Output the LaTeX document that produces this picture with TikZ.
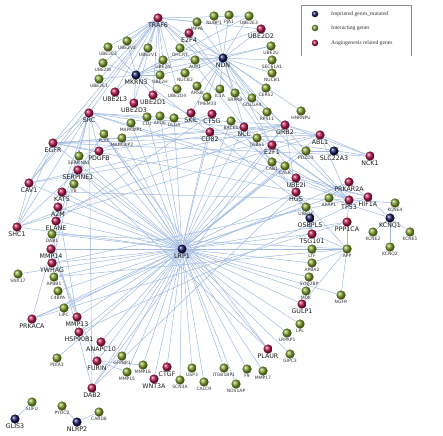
\documentclass[tikz,border=0pt]{standalone}
\usepackage{fontspec}
\setsansfont{DejaVu Sans}
\newfontfamily\legendfont{Liberation Serif}
\usetikzlibrary{backgrounds}
\definecolor{genenavy}{HTML}{15175C}
\definecolor{genegreen}{HTML}{7C9C2A}
\definecolor{genered}{HTML}{B2164A}
\definecolor{edgeblue}{HTML}{9FB9E2}

\begin{document}
\begin{tikzpicture}[x=1pt,y=-1pt,
  gene/.style={circle,inner sep=0pt,minimum size=9.2pt},
  biglab/.style={font=\sffamily\fontsize{6.3}{6.3}\selectfont,text=black!90,inner sep=0.3pt},
  smalllab/.style={font=\sffamily\fontsize{4.5}{4.5}\selectfont,text=black!80,inner sep=0.3pt},
  imp/.style={gene,ball color=genenavy,label={[biglab]below:#1}},
  ang/.style={gene,ball color=genered,label={[biglab]below:#1}},
  itr/.style={gene,ball color=genegreen,label={[smalllab]below:#1}},
  conn/.style={draw=edgeblue,line width=0.5pt}]

  \useasboundingbox (0,0) rectangle (443,435);

  % imprinted genes (mutated)
  \node[imp=NDN] (NDN) at (223,58) {};
  \node[imp=MKRN3] (MKRN3) at (136,75) {};
  \node[imp=LRP1] (LRP1) at (182,249) {};
  \node[imp=SLC22A3] (SLC22A3) at (334,151) {};
  \node[imp=OSBPL5] (OSBPL5) at (310,218) {};
  \node[imp=KCNQ1] (KCNQ1) at (390,218) {};
  \node[imp=GLIS3] (GLIS3) at (15,419) {};
  \node[imp=NLRP2] (NLRP2) at (77,422) {};

  % angiogenesis related genes
  \node[ang=TRAF6] (TRAF6) at (158,18) {};
  \node[ang=E2F4] (E2F4) at (189,33) {};
  \node[ang=UBE2D2] (UBE2D2) at (261,29) {};
  \node[ang=UBE2L3] (UBE2L3) at (115,92) {};
  \node[ang=UBE2D1] (UBE2D1) at (153,95) {};
  \node[ang=UBE2D3] (UBE2D3) at (134,103) {};
  \node[ang=SRC] (SRC) at (89,113) {};
  \node[ang=SKIL] (SKIL) at (191,113) {};
  \node[ang=CTSG] (CTSG) at (212,114) {};
  \node[ang=CD82] (CD82) at (210,132) {};
  \node[ang=NCL] (NCL) at (244,127) {};
  \node[ang=GRB2] (GRB2) at (285,125) {};
  \node[ang=E2F1] (E2F1) at (272,145) {};
  \node[ang=ABL1] (ABL1) at (320,135) {};
  \node[ang=NCK1] (NCK1) at (370,156) {};
  \node[ang=EGFR] (EGFR) at (53,143) {};
  \node[ang=PDGFB] (PDGFB) at (99,151) {};
  \node[ang=SERPINE1] (SERPINE1) at (78,170) {};
  \node[ang=CAV1] (CAV1) at (29,183) {};
  \node[ang=KAT5] (KAT5) at (62,192) {};
  \node[ang=A2M] (A2M) at (58,207) {};
  \node[ang=ELANE] (ELANE) at (56,221) {};
  \node[ang=SHC1] (SHC1) at (17,227) {};
  \node[ang=MMP14] (MMP14) at (51,249) {};
  \node[ang=YWHAG] (YWHAG) at (52,263) {};
  \node[ang=PRKACA] (PRKACA) at (32,319) {};
  \node[ang=MMP13] (MMP13) at (77,317) {};
  \node[ang=HSP90B1] (HSP90B1) at (79,332) {};
  \node[ang=ANAPC10] (ANAPC10) at (101,342) {};
  \node[ang=FURIN] (FURIN) at (97,361) {};
  \node[ang=DAB2] (DAB2) at (92,388) {};
  \node[ang=WNT3A] (WNT3A) at (154,379) {};
  \node[ang=CTGF] (CTGF) at (167,367) {};
  \node[ang=PLAUR] (PLAUR) at (268,349) {};
  \node[ang=GULP1] (GULP1) at (302,304) {};
  \node[ang=TSG101] (TSG101) at (312,234) {};
  \node[ang=PPP1CA] (PPP1CA) at (347,222) {};
  \node[ang=TP53] (TP53) at (349,200) {};
  \node[ang=HIF1A] (HIF1A) at (368,197) {};
  \node[ang=PRKAR2A] (PRKAR2A) at (349,182) {};
  \node[ang=UBE2I] (UBE2I) at (296,178) {};
  \node[ang=HGS] (HGS) at (296,192) {};

  % interacting genes
  \node[itr=MPP6] (MPP6) at (197,22) {};
  \node[itr=NUBP1] (NUBP1) at (214,16) {};
  \node[itr=PJA1] (PJA1) at (229,15) {};
  \node[itr=UBE2E3] (UBE2E3) at (249,16) {};
  \node[itr=DHCR7] (DHCR7) at (180,48) {};
  \node[itr=UBE2U] (UBE2U) at (271,46) {};
  \node[itr=SEC61A1] (SEC61A1) at (272,60) {};
  \node[itr=NUCB1] (NUCB1) at (272,73) {};
  \node[itr=UBE2E2] (UBE2E2) at (108,47) {};
  \node[itr=UBE2V2] (UBE2V2) at (127,41) {};
  \node[itr=UBE2V1] (UBE2V1) at (148,48) {};
  \node[itr=UBE2W] (UBE2W) at (103,63) {};
  \node[itr=UBE2E1] (UBE2E1) at (99,79) {};
  \node[itr=UBE2N] (UBE2N) at (163,60) {};
  \node[itr=UBE2H] (UBE2H) at (160,75) {};
  \node[itr=AUP1] (AUP1) at (195,60) {};
  \node[itr=NUCB2] (NUCB2) at (185,73) {};
  \node[itr=ARSB] (ARSB) at (197,86) {};
  \node[itr=UBE2D4] (UBE2D4) at (177,89) {};
  \node[itr=TMEM33] (TMEM33) at (207,97) {};
  \node[itr=IL1A] (IL1A) at (220,89) {};
  \node[itr=SRPRB] (SRPRB) at (235,93) {};
  \node[itr=GOLGA4] (GOLGA4) at (252,98) {};
  \node[itr=CERS2] (CERS2) at (266,88) {};
  \node[itr=RPS11] (RPS11) at (267,112) {};
  \node[itr=HNRNPU] (HNRNPU) at (301,111) {};
  \node[itr=MAPK8IP1] (MAPK8IP1) at (131,123) {};
  \node[itr=CLU] (CLU) at (147,117) {};
  \node[itr=APOE] (APOE) at (160,116) {};
  \node[itr=DLG4] (DLG4) at (174,118) {};
  \node[itr=PLAT] (PLAT) at (104,134) {};
  \node[itr=MAPK8IP2] (MAPK8IP2) at (122,138) {};
  \node[itr=SERPINA1] (SERPINA1) at (79,156) {};
  \node[itr=F8] (F8) at (74,184) {};
  \node[itr=BACE1] (BACE1) at (231,121) {};
  \node[itr=THBS1] (THBS1) at (257,138) {};
  \node[itr=CAB1] (CAB1) at (272,162) {};
  \node[itr=CALR] (CALR) at (285,166) {};
  \node[itr=PDZD3] (PDZD3) at (306,151) {};
  \node[itr=AKAP1] (AKAP1) at (329,198) {};
  \node[itr=UBE2K] (UBE2K) at (306,207) {};
  \node[itr=KCNE4] (KCNE4) at (395,203) {};
  \node[itr=KCNE2] (KCNE2) at (373,232) {};
  \node[itr=KCNE1] (KCNE1) at (410,232) {};
  \node[itr=KCNQ2] (KCNQ2) at (390,247) {};
  \node[itr=LTF] (LTF) at (312,249) {};
  \node[itr=APP] (APP) at (347,249) {};
  \node[itr=APBA2] (APBA2) at (312,263) {};
  \node[itr=SYNJ2BP] (SYNJ2BP) at (309,277) {};
  \node[itr=MDK] (MDK) at (306,291) {};
  \node[itr=NGFR] (NGFR) at (341,295) {};
  \node[itr=LPL] (LPL) at (300,324) {};
  \node[itr=LRPAP1] (LRPAP1) at (287,333) {};
  \node[itr=GIPC3] (GIPC3) at (290,354) {};
  \node[itr=MMP17] (MMP17) at (263,371) {};
  \node[itr=F9] (F9) at (247,369) {};
  \node[itr=ITGB1BP1] (ITGB1BP1) at (224,368) {};
  \node[itr=NOS1AP] (NOS1AP) at (236,384) {};
  \node[itr=CALCR] (CALCR) at (204,382) {};
  \node[itr=USP3] (USP3) at (192,368) {};
  \node[itr=SCN3A] (SCN3A) at (180,380) {};
  \node[itr=MMP16] (MMP16) at (143,365) {};
  \node[itr=MMP15] (MMP15) at (127,372) {};
  \node[itr=GTPBP1] (GTPBP1) at (122,356) {};
  \node[itr=PDIA3] (PDIA3) at (57,358) {};
  \node[itr=LIPC] (LIPC) at (64,308) {};
  \node[itr=C4BPA] (C4BPA) at (58,291) {};
  \node[itr=APBB1] (APBB1) at (54,277) {};
  \node[itr=SNX17] (SNX17) at (18,274) {};
  \node[itr=DAB1] (DAB1) at (52,234) {};
  \node[itr=SUFU] (SUFU) at (32,402) {};
  \node[itr=PYDC2] (PYDC2) at (62,406) {};
  \node[itr=CARD8] (CARD8) at (99,412) {};

  % interactions
  \begin{scope}[on background layer]
    \foreach \g in {SRC,EGFR,CAV1,SHC1,SERPINE1,SERPINA1,PLAT,PDGFB,MAPK8IP1,
      MAPK8IP2,CLU,APOE,DLG4,CTSG,CD82,BACE1,NCL,THBS1,GRB2,CALR,CAB1,PDZD3,
      HGS,UBE2K,TSG101,AKAP1,PPP1CA,APP,LTF,APBA2,SYNJ2BP,MDK,NGFR,GULP1,LPL,
      LRPAP1,PLAUR,GIPC3,MMP17,F9,ITGB1BP1,NOS1AP,CALCR,USP3,SCN3A,CTGF,WNT3A,
      MMP16,MMP15,GTPBP1,DAB2,FURIN,ANAPC10,HSP90B1,MMP13,PDIA3,LIPC,C4BPA,
      APBB1,SNX17,DAB1,MMP14,YWHAG,ELANE,A2M,KAT5,F8,PRKACA,ABL1}
      \draw[conn] (LRP1) -- (\g);
    \foreach \g in {MPP6,NUBP1,PJA1,UBE2E3,UBE2D2,E2F4,DHCR7,AUP1,NUCB2,ARSB,
      TMEM33,IL1A,SRPRB,GOLGA4,CERS2,UBE2U,SEC61A1,NUCB1,E2F1,TP53,SKIL,NCL,
      TRAF6,UBE2N,HNRNPU,RPS11,UBE2H}
      \draw[conn] (NDN) -- (\g);
    \foreach \g in {UBE2E2,UBE2V2,UBE2V1,UBE2W,UBE2E1,UBE2L3,UBE2D1,UBE2D3,
      UBE2N,UBE2H,UBE2D4,UBE2D2,UBE2E3,UBE2U,UBE2K,TRAF6}
      \draw[conn] (MKRN3) -- (\g);
    \foreach \g in {UBE2E2,UBE2V2,UBE2V1,UBE2W,UBE2E1,UBE2L3,UBE2D1,UBE2D3,
      UBE2N,UBE2H,UBE2D4,UBE2D2,UBE2E3,MPP6,SRC,EGFR,CAV1,GRB2,TP53,HGS}
      \draw[conn] (TRAF6) -- (\g);
    \foreach \a/\b in {SRC/EGFR,SRC/CAV1,SRC/SHC1,SRC/PDGFB,SRC/GRB2,SRC/ABL1,
      SRC/NCK1,SRC/KAT5,SRC/YWHAG,SRC/PRKACA,SRC/TP53,SRC/HIF1A,
      EGFR/CAV1,EGFR/SHC1,EGFR/GRB2,EGFR/ABL1,EGFR/NCK1,EGFR/HGS,EGFR/PDGFB,
      EGFR/CD82,SHC1/GRB2,SHC1/ABL1,SHC1/PDGFB,SHC1/CAV1,GRB2/ABL1,GRB2/NCK1,
      GRB2/PDGFB,GRB2/CAV1,GRB2/HGS,GRB2/DAB2,ABL1/NCK1,ABL1/TP53,ABL1/CAV1,
      ABL1/SLC22A3,TP53/HIF1A,TP53/E2F1,TP53/KAT5,TP53/YWHAG,TP53/UBE2I,
      TP53/UBE2D1,TP53/NCL,HIF1A/HSP90B1,HIF1A/UBE2I,PRKAR2A/PRKACA,
      PRKAR2A/AKAP1,PPP1CA/PRKACA,PPP1CA/TP53,HGS/TSG101,HGS/OSBPL5,
      TSG101/UBE2K,TSG101/OSBPL5,E2F1/E2F4,E2F1/UBE2I,A2M/ELANE,A2M/MMP13,
      SERPINE1/PLAT,SERPINE1/PLAUR,SERPINE1/SERPINA1,PLAT/PLAUR,MMP14/MMP13,
      MMP14/FURIN,FURIN/MMP15,FURIN/MMP16,CTSG/ELANE,CTSG/SERPINA1,
      SLC22A3/PDZD3,DAB2/SRC,DAB2/DAB1,DAB2/HGS,APP/APBA2,APP/APBB1,APP/NGFR,
      APP/LTF,APP/BACE1,APP/DAB1,APP/PPP1CA,APP/TSG101,APP/GULP1,
      KCNQ1/KCNE1,KCNQ1/KCNE2,KCNQ1/KCNQ2,KCNQ1/KCNE4,KCNQ1/PRKAR2A,
      KCNQ1/AKAP1,KCNE4/TP53,GLIS3/SUFU,NLRP2/PYDC2,NLRP2/CARD8}
      \draw[conn] (\a) -- (\b);
  \end{scope}

  % legend
  \draw[black!45,line width=0.5pt] (301,56) -- (301,5) -- (411,5) -- (411,56);
  \node[circle,inner sep=0pt,minimum size=6.5pt,ball color=genenavy] (legimp) at (315,14) {};
  \node[circle,inner sep=0pt,minimum size=6.5pt,ball color=genegreen] (legitr) at (315,28) {};
  \node[circle,inner sep=0pt,minimum size=6.5pt,ball color=genered] (legang) at (315,43) {};
  \node[anchor=west,font=\legendfont\fontsize{5.6}{6}\selectfont,text=black!80,inner sep=0pt] (legimptxt) at (331,14) {Imprinted genes\_mutated};
  \node[anchor=west,font=\legendfont\fontsize{5.6}{6}\selectfont,text=black!80,inner sep=0pt] (legitrtxt) at (331,28) {Interacting genes};
  \node[anchor=west,font=\legendfont\fontsize{5.6}{6}\selectfont,text=black!80,inner sep=0pt] (legangtxt) at (331,43) {Angiogenesis related genes};
\end{tikzpicture}
\end{document}
